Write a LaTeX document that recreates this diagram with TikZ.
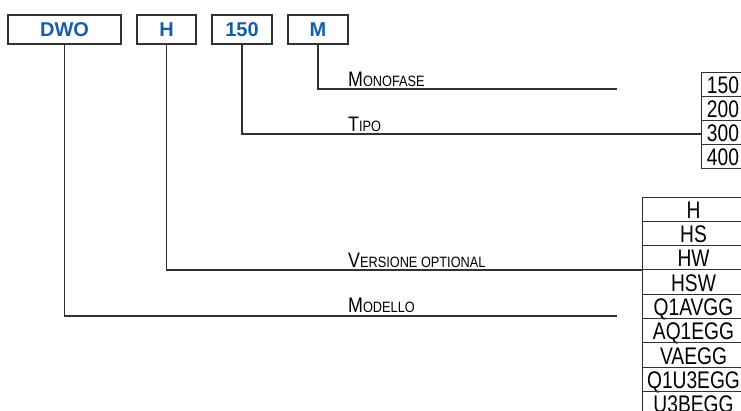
\documentclass[tikz,border=0pt]{standalone}
\usepackage{fontspec}
\setmainfont{Liberation Sans}
\newfontfamily\labfont[FakeStretch=0.85]{Liberation Sans}
\newfontfamily\cellfont[FakeStretch=0.8]{Liberation Sans}
\usetikzlibrary{positioning}
\definecolor{codeblue}{RGB}{22,94,170}
\definecolor{linegray}{RGB}{50,50,50}
\newcommand\sclab[2]{{\fontsize{21}{21}\selectfont #1}{\fontsize{15}{15}\selectfont #2}}
\newcommand\vcell[1]{\makebox[90pt]{#1}\hspace{13pt}}
\tikzset{
  codebox/.style={draw=linegray, line width=1.2pt, minimum height=29pt, inner sep=0pt,
    font=\fontsize{20}{20}\selectfont\bfseries, text=codeblue},
  cell/.style={draw=linegray, line width=1pt, outer sep=0pt, inner sep=0pt,
    text height=21pt, text depth=3pt, font=\cellfont\fontsize{24}{24}\selectfont},
  tcell/.style={cell, minimum width=44pt, minimum height=24pt},
  vcellbox/.style={cell, minimum width=103pt, minimum height=24.3pt, text height=21.2pt, text depth=3.1pt},
  lab/.style={anchor=base west, inner sep=0pt, font=\labfont},
  wire/.style={draw=linegray, line width=1.2pt},
}
\begin{document}
\begin{tikzpicture}[x=1pt, y=-1pt]
  \useasboundingbox (0,0) rectangle (741,410);

  % code boxes
  \node [codebox, minimum width=113pt] (dwo)  at (64.5,29.5) {DWO};
  \node [codebox, minimum width=59pt]  (hbox) at (166.5,29.5) {H};
  \node [codebox, minimum width=60pt]  (nbox) at (242,29.5) {150};
  \node [codebox, minimum width=60pt]  (mbox) at (318,29.5) {M};

  % tipo
  \node [tcell, anchor=north west] (t150) at (701,72) {150};
  \node [tcell, below=0pt of t150] (t200) {200};
  \node [tcell, below=0pt of t200] (t300) {300};
  \node [tcell, below=0pt of t300] (t400) {400};

  % versione
  \node [vcellbox, anchor=north west] (vH) at (642,197) {\vcell{H}};
  \node [vcellbox, below=0pt of vH]     (vHS)     {\vcell{HS}};
  \node [vcellbox, below=0pt of vHS]    (vHW)     {\vcell{HW}};
  \node [vcellbox, below=0pt of vHW]    (vHSW)    {\vcell{HSW}};
  \node [vcellbox, below=0pt of vHSW]   (vQ1AVGG) {\vcell{Q1AVGG}};
  \node [vcellbox, below=0pt of vQ1AVGG] (vAQ1EGG) {\vcell{AQ1EGG}};
  \node [vcellbox, below=0pt of vAQ1EGG] (vVAEGG) {\vcell{VAEGG}};
  \node [vcellbox, below=0pt of vVAEGG] (vQ1U3EGG) {\vcell{Q1U3EGG}};
  \node [vcellbox, below=0pt of vQ1U3EGG] (vU3BEGG) {\vcell{U3BEGG}};

  \coordinate (monoend) at (617,89);
  \coordinate (modend)  at (617,316);

  \draw [wire] (mbox.south) |- (monoend);
  \draw [wire] (nbox.south) |- ([yshift=-2pt]t300.west);
  \draw [wire] (hbox.south) |- (vHSW.north west);
  \draw [wire] (dwo.south)  |- (modend);

  \node [lab] (lmono) at (348,86)  {\sclab{M}{ONOFASE}};
  \node [lab] (ltipo) at (348,131) {\sclab{T}{IPO}};
  \node [lab] (lvers) at (348,267) {\sclab{V}{ERSIONE OPTIONAL}};
  \node [lab] (lmod)  at (348,312) {\sclab{M}{ODELLO}};
\end{tikzpicture}
\end{document}
